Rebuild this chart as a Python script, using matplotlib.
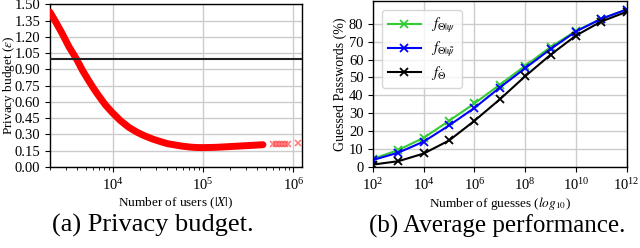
"""Privacy budget vs. number of users, and guessing performance curves."""

import matplotlib
matplotlib.use("Agg")
import matplotlib.pyplot as plt
from matplotlib.ticker import FixedLocator, NullLocator, FormatStrFormatter

# (a) privacy budget
users = [2000, 2350, 2700, 3250, 3980, 4600, 5350, 6100, 6900, 8200, 9750,
         12000, 14900, 18500, 22700, 28000, 34800, 40000, 46900, 58000,
         72000, 85000, 100000, 140000, 200000, 330000, 460000]
epsilon = [1.43, 1.33, 1.24, 1.11, 0.99, 0.89, 0.80, 0.725, 0.66, 0.575, 0.505,
           0.43, 0.367, 0.32, 0.285, 0.255, 0.23, 0.215, 0.205, 0.192,
           0.183, 0.179, 0.178, 0.181, 0.188, 0.198, 0.205]
tail_users = [597000, 644000, 696000, 752000, 811000, 875000, 1130000]
tail_epsilon = [0.21, 0.21, 0.212, 0.213, 0.215, 0.215, 0.22]
budget_limit = 1.0

# (b) guessed passwords (%) per number of guesses
guesses = [1e2, 1e3, 1e4, 1e5, 1e6, 1e7, 1e8, 1e9, 1e10, 1e11, 1e12]
f_psi = [4.5, 9.5, 16.3, 25.8, 35.5, 46.0, 56.5, 67.0, 76.0, 82.8, 88.0]
f_psi_tilde = [3.9, 8.0, 14.2, 23.2, 33.0, 44.4, 55.2, 65.9, 75.7, 82.8, 88.0]
f_base = [1.3, 3.2, 7.5, 14.8, 25.8, 37.8, 50.7, 62.7, 73.4, 81.3, 86.7]
series_labels = [r"$f_{\Theta|\psi}$", r"$f_{\Theta|\tilde{\psi}}$", r"$f_{\dot{\Theta}}$"]

plt.rcParams.update({
    "font.family": "serif",
    "font.serif": ["Liberation Serif", "DejaVu Serif"],
    "mathtext.fontset": "stix",
    "font.size": 9.5,
    "xtick.labelsize": 10.5,
    "ytick.labelsize": 10.5,
    "axes.linewidth": 1.0,
    "xtick.major.size": 3.5,
    "ytick.major.size": 3.5,
})

fig = plt.figure(figsize=(6.4, 2.48), dpi=100)
ax_a = fig.add_axes([0.078, 0.327, 0.394, 0.655])
ax_b = fig.add_axes([0.583, 0.327, 0.396, 0.667])

# ---- panel (a)
ax_a.plot(users, epsilon, color="red", linewidth=5, solid_capstyle="round",
          solid_joinstyle="round", zorder=3)
ax_a.plot(tail_users, tail_epsilon, linestyle="none", marker="x", color="red",
          markersize=4, markeredgewidth=1.2, alpha=0.5, zorder=3)
ax_a.axhline(budget_limit, color="#222222", linewidth=1.5, zorder=4)
ax_a.set_xscale("log")
ax_a.set_xlim(2000, 1.25e6)
ax_a.set_ylim(0, 1.5)
ax_a.yaxis.set_major_locator(FixedLocator([i * 0.15 for i in range(11)]))
ax_a.yaxis.set_major_formatter(FormatStrFormatter("%.2f"))
ax_a.grid(True, color="#cccccc", linewidth=1.0)
ax_a.set_axisbelow(True)
ax_a.set_xlabel(r"Number of users ($|X|$)", labelpad=2)
ax_a.set_ylabel(r"Privacy budget ($\epsilon$)", fontsize=9.5)
ax_a.yaxis.set_label_coords(-0.132, 0.5)

# ---- panel (b)
for values, color, label in zip((f_psi, f_psi_tilde, f_base),
                                ("#33cc33", "blue", "black"), series_labels):
    ax_b.plot(guesses, values, color=color, linewidth=1.5, marker="x",
              markersize=6, markeredgewidth=1.3, label=label)
ax_b.set_xscale("log")
ax_b.set_xlim(1e2, 1e12)
ax_b.set_ylim(0, 92.5)
ax_b.xaxis.set_major_locator(FixedLocator([10.0 ** k for k in range(2, 13, 2)]))
ax_b.xaxis.set_minor_locator(NullLocator())
ax_b.yaxis.set_major_locator(FixedLocator(range(0, 90, 10)))
ax_b.grid(True, color="#cccccc", linewidth=1.0)
ax_b.set_axisbelow(True)
ax_b.set_xlabel(r"Number of guesses ($log_{10}$)", labelpad=2)
ax_b.set_ylabel("Guessed Passwords (%)", fontsize=10)
ax_b.yaxis.set_label_coords(-0.102, 0.5)
ax_b.legend(loc="upper left", fontsize=10.5, handlelength=2.3, labelspacing=0.35,
            borderaxespad=0.6, handletextpad=0.7, framealpha=0.8)

fig.text(0.238, 0.089, "(a) Privacy budget.", ha="center", va="center", fontsize=19)
fig.text(0.777, 0.089, "(b) Average performance.", ha="center", va="center", fontsize=18)

fig.savefig("out.png", dpi=100)
